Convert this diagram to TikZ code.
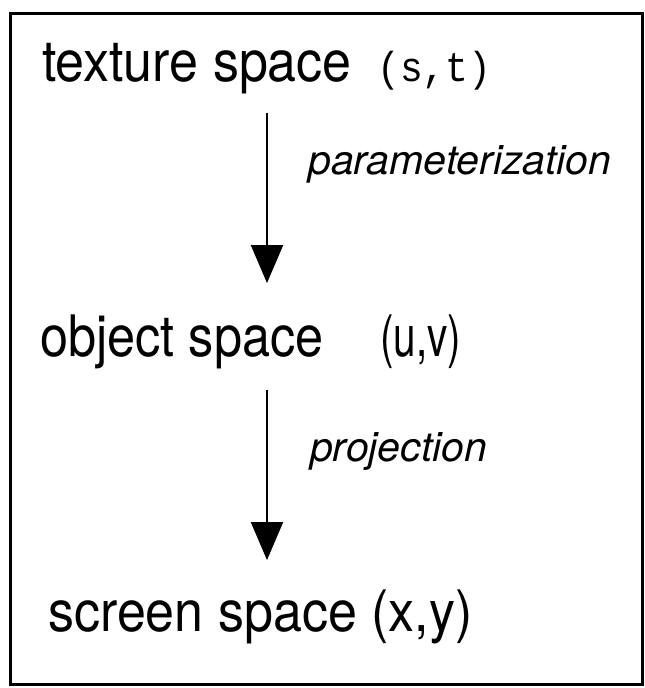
\documentclass[tikz,border=0pt]{standalone}
\usepackage{fontspec}
\setmainfont{TeX Gyre Heros}
\setmonofont{Liberation Mono}
\usetikzlibrary{arrows.meta}
\begin{document}
\begin{tikzpicture}[x=1pt,y=1pt,
  space/.style={anchor=base west, inner sep=0pt, font=\fontsize{52}{60}\selectfont},
  maplabel/.style={anchor=base west, inner sep=0pt, font=\fontsize{41}{46}\selectfont\itshape},
  flow/.style={line width=2pt, -{Triangle[width=32pt,length=38pt]}},
  frame/.style={line width=3pt}]
  \useasboundingbox (0,0) rectangle (645,688);
  % outer frame
  \draw[frame] (10,3) rectangle (642,674);
  % the three spaces
  \node[space] (texture) at (42,606) {\scalebox{1.0}[1.1]{texture space}};
  \node[space] (st) at (377,606) {\scalebox{1}[1.1]{\ttfamily\fontsize{38}{44}\selectfont(s,t)}};
  \node[space] (object) at (40,331) {\scalebox{0.97}[1.1]{object space}};
  \node[space] (uv) at (380,331) {\scalebox{0.78}[1.1]{(u,v)}};
  \node[space] (screen) at (48,56) {\scalebox{1.0}[1.1]{screen space (x,y)}};
  % mappings between them
  \coordinate (ax) at (267,0);
  \node[maplabel] (param) at (308,513) {parameterization};
  \node[maplabel] (proj) at (310,226) {projection};
  \draw[flow, shorten >=32pt] (texture.south -| ax) ++(0,-18) coordinate (a1) -- (object.north -| ax);
  \draw[flow, shorten >=30pt] (object.south -| ax) ++(0,-20) coordinate (a2) -- (screen.north -| ax);
\end{tikzpicture}
\end{document}
